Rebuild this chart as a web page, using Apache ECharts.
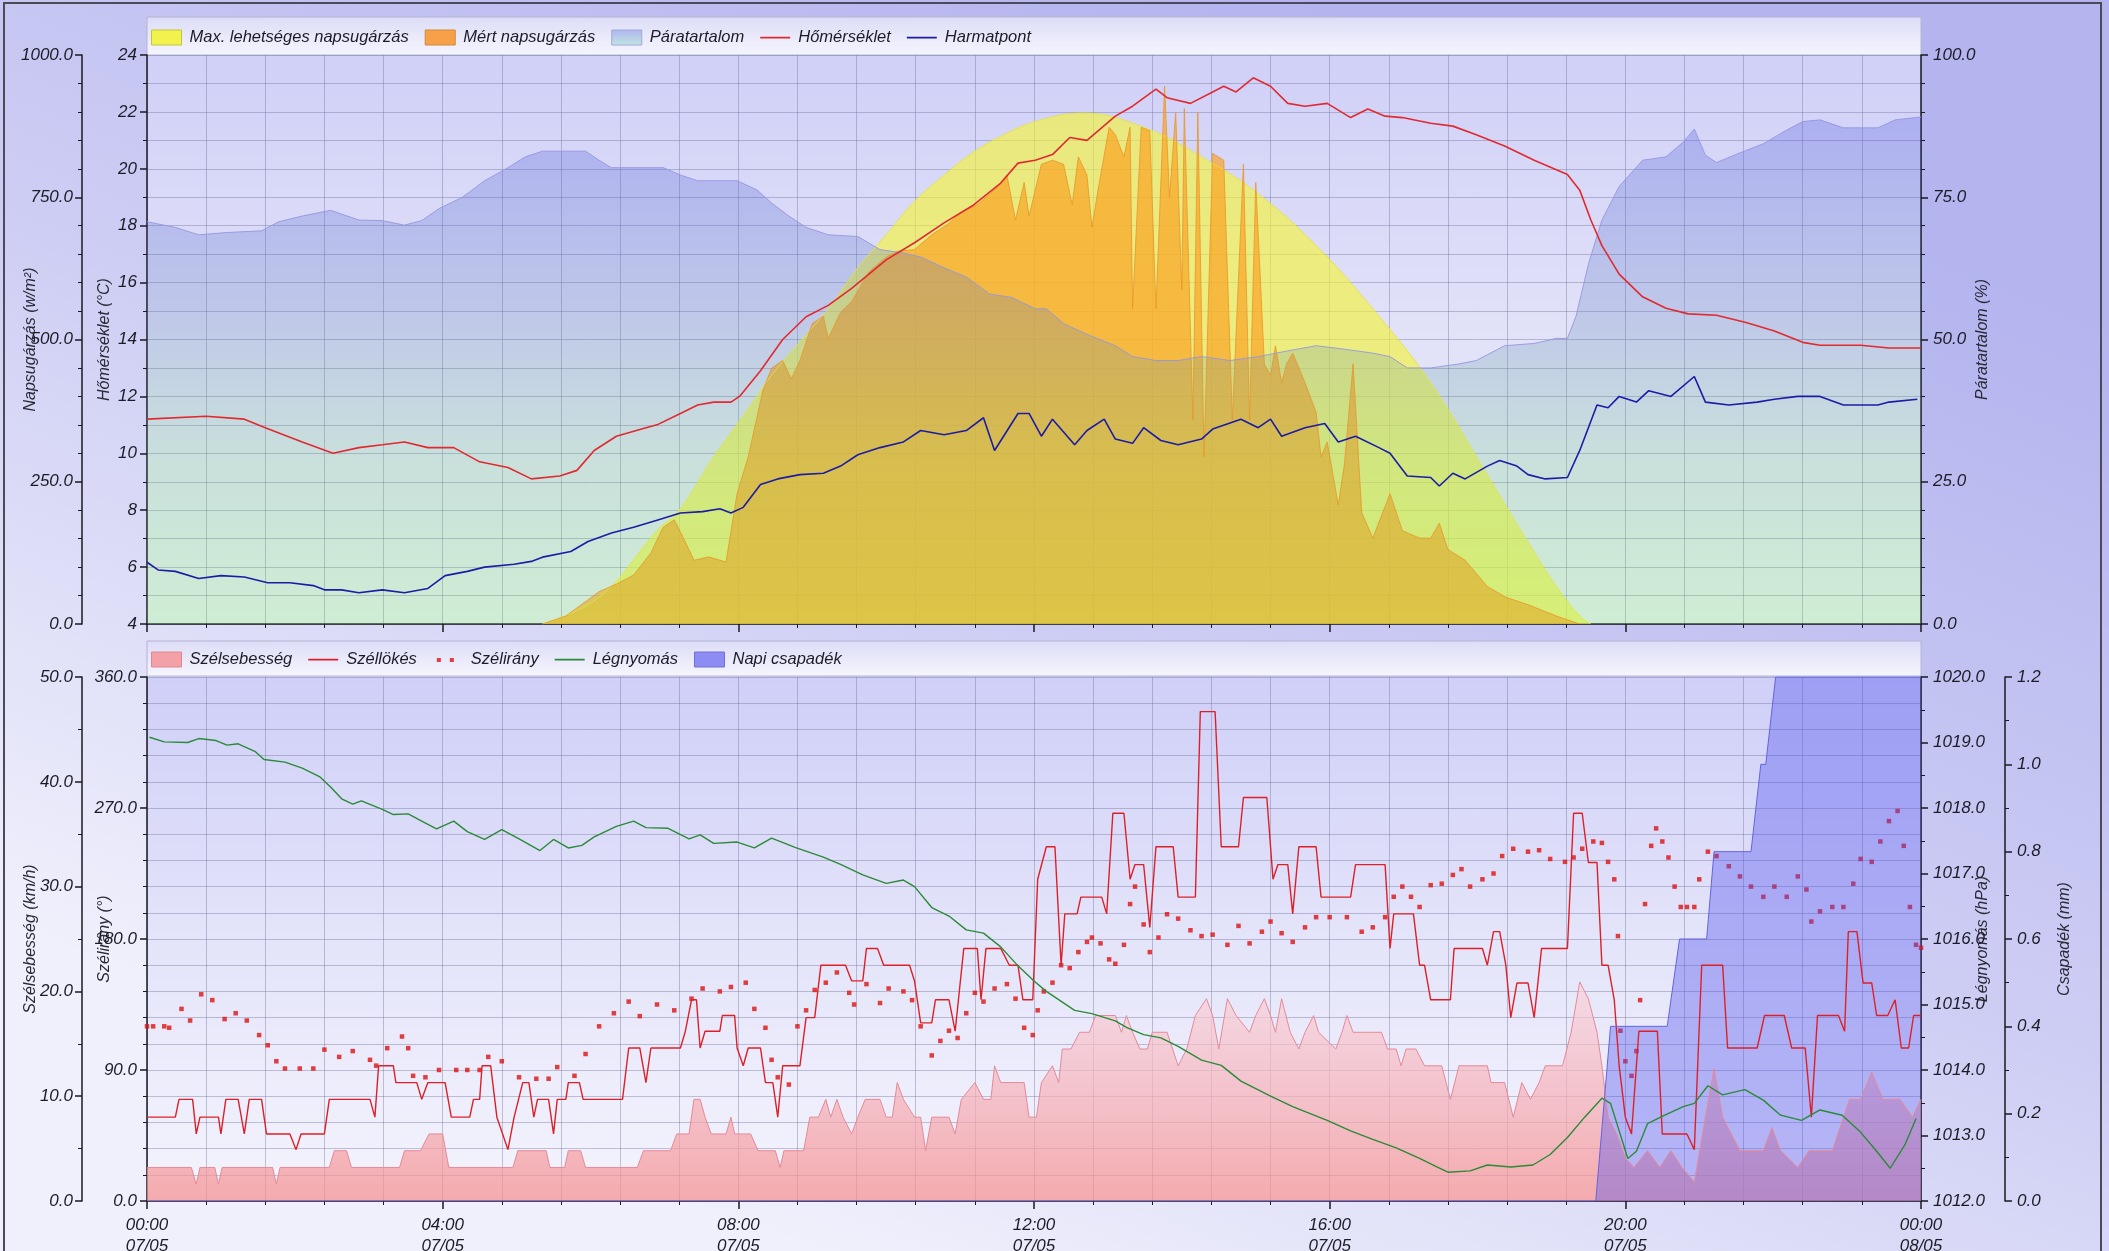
<!DOCTYPE html>
<html><head><meta charset="utf-8">
<script src="https://cdn.jsdelivr.net/npm/echarts@6.0.0/dist/echarts.min.js"></script>
<style>html,body{margin:0;padding:0;width:2109px;height:1251px;overflow:hidden}#c{width:2109px;height:1251px}</style>
</head><body><div id="c"></div><script>
// ---- time axis (minutes from 00:00 07/05) ----
const xMin = 0, xMax = 1440, xLabelStep = 240, xGridSplit = 5;

// ---- top chart data ----
const maxSolar = [[321,0],[367,47],[414,164],[433,203],[460,294],[484,366],[507,437],[530,496],[553,554],[577,626],[600,684],[623,743],[647,789],[670,828],[693,857],[721,883],[760,898],[809,873],[856,821],[902,756],[949,665],[995,554],[1042,424],[1088,262],[1121,144],[1144,66],[1163,14],[1172,0]];
const measSolar = [[321,0],[340,14],[367,57],[381,70],[395,86],[409,125],[419,170],[428,183],[437,144],[444,112],[456,118],[470,109],[479,229],[488,294],[500,411],[507,450],[516,463],[523,431],[530,463],[540,528],[549,541],[553,502],[563,548],[572,567],[586,619],[600,645],[609,655],[623,658],[637,684],[651,704],[660,723],[674,737],[688,763],[698,789],[705,710],[712,776],[716,717],[726,808],[735,815],[744,808],[751,737],[756,821],[763,789],[767,697],[772,763],[781,873],[786,860],[793,821],[798,873],[800,554],[807,873],[814,867],[819,554],[826,945],[830,750],[835,899],[840,587],[842,906],[849,359],[853,899],[858,294],[865,827],[874,815],[881,359],[890,808],[895,359],[900,776],[907,457],[912,437],[916,489],[921,424],[925,457],[930,476],[940,424],[949,372],[953,294],[958,320],[967,209],[972,281],[979,457],[986,196],[995,151],[1009,229],[1019,164],[1033,151],[1042,151],[1049,177],[1056,131],[1070,112],[1088,66],[1103,47],[1121,34],[1144,14],[1163,0]];
const humidity = [[0,70.7],[23,69.7],[42,68.4],[65,68.8],[93,69.1],[107,70.7],[126,71.7],[149,72.7],[172,71.0],[191,70.9],[209,70.1],[223,70.9],[237,73.0],[256,75.0],[274,77.9],[293,80.2],[307,82.1],[321,83.1],[356,83.1],[367,81.5],[377,80.2],[419,80.2],[433,78.9],[447,77.9],[479,77.9],[495,76.3],[507,74.0],[521,71.7],[535,69.7],[553,68.4],[577,68.1],[595,65.8],[614,65.2],[628,64.5],[647,62.6],[665,61.0],[684,58.0],[702,57.4],[721,55.4],[730,55.4],[744,52.8],[763,50.9],[786,48.9],[800,47.0],[819,46.3],[837,46.3],[856,47.0],[879,46.3],[902,47.0],[926,48.0],[949,48.9],[972,48.3],[995,47.6],[1009,47.0],[1023,45.0],[1042,45.0],[1065,45.7],[1079,46.3],[1102,48.9],[1126,49.3],[1144,50.2],[1153,50.2],[1160,54.1],[1170,63.2],[1181,71.0],[1195,76.9],[1214,81.5],[1233,82.1],[1247,84.7],[1256,87.0],[1265,82.4],[1274,81.1],[1293,82.8],[1312,84.4],[1330,86.7],[1344,88.3],[1358,88.6],[1377,87.2],[1405,87.2],[1419,88.6],[1440,89.1]];
const temperature = [[0,11.2],[48,11.3],[79,11.2],[96,10.9],[126,10.4],[151,10.0],[172,10.2],[191,10.3],[209,10.4],[228,10.2],[249,10.2],[270,9.7],[293,9.5],[312,9.1],[335,9.2],[349,9.4],[363,10.1],[381,10.6],[405,10.9],[414,11.0],[433,11.4],[447,11.7],[460,11.8],[474,11.8],[481,12.0],[498,12.9],[516,14.0],[535,14.8],[553,15.2],[572,15.8],[600,16.8],[623,17.4],[647,18.1],[670,18.7],[693,19.5],[707,20.2],[721,20.3],[735,20.5],[749,21.1],[763,21.0],[786,21.85],[800,22.2],[819,22.8],[828,22.5],[847,22.3],[865,22.7],[874,22.9],[884,22.7],[898,23.2],[912,22.9],[926,22.3],[940,22.2],[958,22.3],[977,21.8],[991,22.1],[1005,21.85],[1019,21.8],[1042,21.6],[1060,21.5],[1079,21.2],[1102,20.8],[1126,20.3],[1153,19.8],[1163,19.25],[1172,18.2],[1181,17.3],[1195,16.3],[1214,15.5],[1233,15.1],[1251,14.9],[1274,14.85],[1298,14.6],[1321,14.3],[1344,13.9],[1358,13.8],[1391,13.8],[1414,13.7],[1440,13.7]];
const dewPoint = [[0,6.17],[9,5.9],[23,5.85],[42,5.6],[60,5.7],[79,5.65],[98,5.45],[116,5.45],[135,5.35],[144,5.2],[158,5.2],[172,5.1],[191,5.2],[209,5.1],[228,5.25],[242,5.7],[260,5.85],[274,6.0],[298,6.1],[312,6.2],[321,6.35],[344,6.55],[358,6.9],[377,7.2],[395,7.4],[414,7.65],[433,7.9],[451,7.95],[465,8.05],[474,7.9],[484,8.1],[498,8.9],[512,9.1],[530,9.25],[549,9.3],[563,9.55],[577,9.95],[595,10.2],[614,10.4],[628,10.8],[647,10.65],[665,10.8],[679,11.25],[688,10.1],[707,11.4],[716,11.4],[726,10.6],[735,11.2],[753,10.3],[763,10.8],[777,11.2],[786,10.5],[800,10.35],[809,10.9],[823,10.45],[837,10.3],[856,10.5],[865,10.85],[888,11.2],[902,10.9],[912,11.2],[921,10.6],[940,10.9],[956,11.05],[967,10.4],[981,10.6],[1000,10.2],[1009,10.0],[1023,9.2],[1042,9.15],[1049,8.85],[1060,9.3],[1070,9.1],[1088,9.55],[1098,9.75],[1112,9.55],[1121,9.25],[1135,9.1],[1153,9.15],[1163,10.1],[1177,11.7],[1186,11.6],[1195,12.0],[1209,11.8],[1219,12.2],[1237,12.0],[1256,12.7],[1265,11.8],[1284,11.7],[1307,11.8],[1321,11.9],[1340,12.0],[1358,12.0],[1377,11.7],[1405,11.7],[1414,11.8],[1437,11.9]];

// ---- bottom chart data ----
const windSpeed = [[0,3.2],[36,3.2],[40,1.6],[43,3.2],[55,3.2],[58,1.6],[61,3.2],[102,3.2],[105,1.6],[108,3.2],[148,3.2],[152,4.8],[162,4.8],[166,3.2],[205,3.2],[209,4.8],[222,4.8],[229,6.4],[240,6.4],[245,3.2],[297,3.2],[301,4.8],[324,4.8],[327,3.2],[339,3.2],[342,4.8],[352,4.8],[356,3.2],[398,3.2],[403,4.8],[425,4.8],[430,6.4],[440,6.4],[444,9.7],[449,9.7],[453,8.0],[458,6.4],[470,6.4],[474,8.0],[477,6.4],[490,6.4],[496,4.8],[510,4.8],[514,3.2],[517,4.8],[533,4.8],[538,8.0],[545,8.0],[551,9.7],[555,8.0],[560,9.7],[565,8.0],[572,6.4],[577,8.0],[583,9.7],[595,9.7],[600,8.0],[605,8.0],[609,11.3],[614,9.7],[623,8.0],[628,8.0],[632,4.8],[637,8.0],[651,8.0],[656,6.4],[661,9.7],[672,11.3],[679,9.7],[685,9.7],[688,12.9],[693,11.3],[707,11.3],[712,11.3],[716,8.0],[722,8.0],[726,11.3],[735,12.9],[740,11.3],[743,14.5],[750,14.5],[757,16.1],[765,16.1],[770,17.7],[786,17.7],[791,16.1],[795,17.7],[800,16.1],[806,14.5],[812,14.5],[816,16.1],[828,16.1],[837,12.9],[844,14.5],[851,17.7],[860,19.3],[865,17.7],[870,14.5],[877,19.3],[884,17.7],[895,16.1],[900,17.7],[907,19.3],[912,17.7],[916,16.1],[921,19.3],[928,16.1],[935,14.5],[940,16.1],[947,17.7],[951,16.1],[965,14.5],[970,16.1],[974,17.7],[979,16.1],[1002,16.1],[1007,14.5],[1014,14.5],[1018,12.9],[1022,14.5],[1030,14.5],[1037,12.9],[1051,12.9],[1058,9.7],[1065,12.9],[1088,12.9],[1091,11.3],[1102,11.3],[1109,8.0],[1116,11.3],[1123,9.7],[1130,11.3],[1135,12.9],[1149,12.9],[1156,16.1],[1163,20.9],[1170,19.3],[1177,16.1],[1181,12.9],[1186,8.0],[1193,6.4],[1200,4.1],[1207,3.2],[1218,4.8],[1228,3.2],[1237,4.8],[1246,3.2],[1256,1.8],[1265,8.0],[1272,12.6],[1279,8.0],[1293,4.8],[1312,4.8],[1319,7.0],[1326,4.8],[1340,3.2],[1349,4.8],[1368,4.8],[1382,9.7],[1391,9.7],[1400,12.3],[1409,9.7],[1423,9.7],[1433,8.0],[1440,9.7]];
const windGust = [[0,8.0],[23,8.0],[26,9.7],[37,9.7],[40,6.4],[43,8.0],[58,8.0],[60,6.4],[64,9.7],[74,9.7],[79,6.4],[83,9.7],[93,9.7],[97,6.4],[116,6.4],[121,4.9],[125,6.4],[144,6.4],[148,9.7],[181,9.7],[185,8.0],[188,12.9],[200,12.9],[202,11.3],[219,11.3],[223,9.7],[228,11.3],[242,11.3],[247,8.0],[262,8.0],[265,9.7],[270,9.7],[272,12.9],[279,12.9],[284,8.0],[293,4.9],[298,8.0],[305,11.3],[310,11.3],[314,8.0],[317,9.7],[326,9.7],[330,6.4],[333,9.7],[340,9.7],[342,11.3],[351,11.3],[354,9.7],[386,9.7],[391,14.6],[400,14.6],[405,11.3],[409,14.6],[433,14.6],[437,16.2],[442,19.2],[446,19.2],[449,14.6],[453,16.2],[465,16.2],[467,17.7],[477,17.7],[479,14.6],[484,12.9],[488,14.6],[498,14.6],[502,11.3],[508,11.3],[512,8.0],[516,12.9],[530,12.9],[535,17.5],[542,17.5],[547,22.5],[567,22.5],[572,21.0],[581,21.0],[584,24.1],[593,24.1],[598,22.5],[619,22.5],[623,21.0],[628,17.0],[637,17.0],[640,19.2],[651,19.2],[656,16.2],[663,24.1],[674,24.1],[677,19.2],[681,24.1],[693,24.1],[700,22.5],[707,22.5],[711,19.2],[719,19.2],[723,30.7],[730,33.8],[737,33.8],[742,22.5],[745,27.4],[755,27.4],[758,29.0],[775,29.0],[779,27.4],[784,37.0],[793,37.0],[798,30.7],[802,32.1],[809,32.1],[814,26.1],[819,33.8],[833,33.8],[837,29.0],[851,29.0],[855,46.7],[867,46.7],[872,33.8],[886,33.8],[890,38.5],[909,38.5],[914,30.7],[918,32.1],[926,32.1],[930,27.4],[935,33.8],[949,33.8],[953,29.0],[977,29.0],[981,32.1],[1005,32.1],[1009,24.1],[1012,27.4],[1028,27.4],[1033,22.5],[1037,22.5],[1042,19.2],[1058,19.2],[1061,24.1],[1084,24.1],[1088,22.5],[1093,25.7],[1098,25.7],[1103,22.5],[1107,17.5],[1112,20.8],[1121,20.8],[1126,17.5],[1132,24.1],[1153,24.1],[1158,37.0],[1165,37.0],[1170,32.3],[1177,32.3],[1181,22.5],[1186,22.5],[1191,19.2],[1195,12.9],[1200,8.0],[1205,6.4],[1211,16.2],[1226,16.2],[1230,6.4],[1250,6.4],[1256,4.9],[1262,22.5],[1279,22.5],[1283,14.6],[1307,14.6],[1313,17.7],[1329,17.7],[1335,14.6],[1346,14.6],[1351,8.0],[1356,17.7],[1373,17.7],[1378,16.2],[1381,25.7],[1388,25.7],[1393,20.8],[1400,20.8],[1404,17.7],[1413,17.7],[1419,19.2],[1424,14.6],[1430,14.6],[1434,17.7],[1440,17.7]];
const windDir = [[0,120],[5,120],[14,120],[18,119],[28,132],[35,124],[44,142],[53,138],[63,125],[72,129],[81,124],[91,114],[98,107],[105,96],[112,91],[124,91],[135,91],[144,104],[156,99],[167,103],[181,97],[186,93],[195,105],[207,113],[212,105],[216,86],[226,85],[237,90],[251,90],[260,90],[270,90],[277,99],[288,96],[302,85],[316,84],[326,84],[333,92],[347,86],[356,101],[367,120],[379,129],[391,137],[400,127],[414,135],[428,131],[442,139],[451,146],[465,144],[474,147],[486,150],[493,132],[502,119],[507,97],[512,85],[521,80],[528,120],[535,131],[542,145],[551,150],[560,157],[570,143],[574,135],[584,149],[595,136],[602,146],[614,144],[621,138],[628,120],[637,100],[644,110],[651,117],[658,112],[665,129],[672,143],[679,137],[688,146],[698,149],[705,139],[712,119],[719,114],[723,131],[728,144],[735,150],[742,162],[749,160],[756,171],[763,178],[767,181],[774,177],[781,166],[786,163],[793,176],[798,204],[802,216],[809,190],[814,171],[821,181],[828,197],[837,194],[847,186],[856,182],[865,183],[877,176],[886,189],[895,177],[905,185],[912,192],[921,184],[930,178],[940,188],[949,195],[960,195],[974,195],[986,185],[995,188],[1005,195],[1012,209],[1019,216],[1026,209],[1033,202],[1042,217],[1051,218],[1060,224],[1067,228],[1074,216],[1084,221],[1093,225],[1100,237],[1109,242],[1121,240],[1130,241],[1139,235],[1151,233],[1158,236],[1165,242],[1174,247],[1181,246],[1186,233],[1191,221],[1194,182],[1196,117],[1200,96],[1205,86],[1209,103],[1212,138],[1216,204],[1221,244],[1225,256],[1230,247],[1235,236],[1240,216],[1245,202],[1250,202],[1256,202],[1260,221],[1267,240],[1274,237],[1284,230],[1293,223],[1302,216],[1312,209],[1321,216],[1331,209],[1340,223],[1347,214],[1351,192],[1358,199],[1368,202],[1377,202],[1385,218],[1391,235],[1400,233],[1407,247],[1414,261],[1421,268],[1426,244],[1431,202],[1436,176],[1440,174]];
const pressure = [[2,1019.08],[14,1019.01],[33,1019.0],[42,1019.06],[56,1019.03],[65,1018.96],[74,1018.98],[88,1018.86],[95,1018.74],[112,1018.70],[126,1018.61],[140,1018.48],[149,1018.32],[158,1018.14],[167,1018.06],[174,1018.11],[191,1017.98],[200,1017.90],[212,1017.91],[223,1017.80],[235,1017.68],[249,1017.80],[260,1017.64],[274,1017.52],[288,1017.67],[302,1017.53],[319,1017.35],[330,1017.52],[342,1017.39],[353,1017.43],[363,1017.56],[381,1017.72],[395,1017.80],[405,1017.70],[423,1017.69],[440,1017.53],[449,1017.59],[460,1017.46],[479,1017.48],[493,1017.39],[507,1017.54],[526,1017.40],[549,1017.25],[563,1017.14],[581,1016.98],[600,1016.85],[614,1016.90],[623,1016.80],[637,1016.48],[651,1016.35],[665,1016.14],[679,1016.09],[693,1015.88],[707,1015.59],[720,1015.36],[730,1015.2],[753,1014.91],[767,1014.86],[786,1014.75],[795,1014.65],[809,1014.54],[823,1014.49],[837,1014.36],[856,1014.15],[872,1014.07],[888,1013.83],[912,1013.60],[930,1013.44],[958,1013.23],[977,1013.07],[995,1012.94],[1014,1012.81],[1033,1012.65],[1047,1012.52],[1056,1012.44],[1074,1012.46],[1088,1012.55],[1107,1012.52],[1125,1012.55],[1139,1012.71],[1153,1012.97],[1167,1013.28],[1181,1013.57],[1188,1013.49],[1195,1013.07],[1202,1012.65],[1209,1012.76],[1218,1013.18],[1232,1013.31],[1247,1013.44],[1256,1013.49],[1267,1013.76],[1279,1013.62],[1297,1013.70],[1312,1013.54],[1326,1013.31],[1343,1013.23],[1358,1013.39],[1376,1013.31],[1390,1013.07],[1404,1012.76],[1415,1012.50],[1427,1012.86],[1436,1013.26]];
const rain = [[0,0],[1176,0],[1188,0.4],[1234,0.4],[1244,0.6],[1266,0.6],[1272,0.8],[1302,0.8],[1310,1.0],[1314,1.0],[1322,1.2],[1440,1.2]];

// ---- texts ----
const topNames = ['Max. lehetséges napsugárzás','Mért napsugárzás','Páratartalom','Hőmérséklet','Harmatpont'];
const botNames = ['Szélsebesség','Széllökés','Szélirány','Légnyomás','Napi csapadék'];
const axisNames = {solar:'Napsugárzás (w/m²)', temp:'Hőmérséklet (°C)', hum:'Páratartalom (%)', wind:'Szélsebesség (km/h)', dir:'Szélirány (°)', press:'Légnyomás (hPa)', rain:'Csapadék (mm)'};
const dayLabels = ['07/05','08/05'];

const FONT = '"Liberation Sans", Arial, sans-serif';
const txt = {fontFamily: FONT, fontStyle: 'italic', fontSize: 17, color: '#1c1c28'};
const gridLineStyle = {color: 'rgba(105,105,150,0.38)', width: 1};
const axisLineStyle = {color: '#1a1a22', width: 1.5};
const pad = n => (n < 10 ? '0' : '') + n;
const f1 = v => v.toFixed(1);
const lineIcon = 'path://M0,0h0.01v0.01h-0.01z M30,15h0.01v0.01h-0.01z M0,6.7h30v1.7h-30z';
const dotsIcon = 'path://M0,0h0.01v0.01h-0.01z M30,15h0.01v0.01h-0.01z M4,6h4v4h-4z M17,6h4v4h-4z';

function yAxisDef(o) {
  return Object.assign({
    type: 'value', nameLocation: 'middle', nameRotate: 90, nameMoveOverlap: false,
    nameTextStyle: {fontFamily: FONT, fontStyle: 'italic', fontSize: 16, color: '#2a2a36'},
    axisLine: {show: true, onZero: false, lineStyle: axisLineStyle},
    axisTick: {show: true, length: 7, lineStyle: axisLineStyle},
    axisLabel: Object.assign({margin: 10}, txt),
    splitLine: {show: false}
  }, o);
}
function minor(n) { return {show: true, splitNumber: n, length: 4, lineStyle: {color: '#1a1a22', width: 1}}; }
function xAxisDef(grid, showLabels) {
  return {
    type: 'value', gridIndex: grid, min: xMin, max: xMax, interval: xLabelStep,
    axisLine: {show: true, onZero: false, lineStyle: axisLineStyle},
    axisTick: {show: true, length: 8, lineStyle: axisLineStyle},
    minorTick: minor(xGridSplit),
    splitLine: {show: true, lineStyle: gridLineStyle},
    minorSplitLine: {show: true, lineStyle: gridLineStyle},
    axisLabel: showLabels ? Object.assign({
      margin: 14, lineHeight: 21,
      formatter: v => pad(Math.floor(v / 60) % 24) + ':' + pad(v % 60) + '\n' + (v >= 1440 ? dayLabels[1] : dayLabels[0])
    }, txt) : {show: false}
  };
}
function vgrad(stops) { return {type: 'linear', x: 0, y: 0, x2: 0, y2: 1, colorStops: stops.map((c, i) => ({offset: i / (stops.length - 1), color: c}))}; }
function ggrad(y1, y2, stops) { return {type: 'linear', x: 0, y: y1, x2: 0, y2: y2, global: true, colorStops: stops.map(s => ({offset: s[0], color: s[1]}))}; }

const chart = echarts.init(document.getElementById('c'), null, {renderer: 'canvas'});
const legendText = {fontFamily: FONT, fontStyle: 'italic', fontSize: 16.5, color: '#1c1c28', padding: [0, 0, 0, 3]};

chart.setOption({
  animation: false,
  backgroundColor: {type: 'linear', x: 0.62, y: 0, x2: 0.38, y2: 1, colorStops: [{offset: 0, color: '#b4b4ef'}, {offset: 0.5, color: '#cdcdf4'}, {offset: 1, color: '#f0f0fc'}]},
  graphic: [
    {type: 'rect', z: 0, shape: {x: 147, y: 17, width: 1774, height: 38}, style: {fill: vgrad(['#dcdcf7', '#f6f6fe']), stroke: '#b4b4d4', lineWidth: 1}},
    {type: 'rect', z: 0, shape: {x: 147, y: 641, width: 1774, height: 35}, style: {fill: vgrad(['#dcdcf7', '#f6f6fe']), stroke: '#b4b4d4', lineWidth: 1}},
    {type: 'rect', z: 0, shape: {x: 4, y: 3, width: 2097, height: 1262}, style: {fill: 'none', stroke: '#4a4a5a', lineWidth: 2}}
  ],
  grid: [
    {left: 147, right: 188, top: 55, height: 569, containLabel: false, outerBoundsMode: 'none', show: true, borderWidth: 0, backgroundColor: vgrad(['#d0d0f8', '#e2e2f8', '#e6eef2'])},
    {left: 147, right: 188, top: 677, height: 524, containLabel: false, outerBoundsMode: 'none', show: true, borderWidth: 0, backgroundColor: vgrad(['#cfcff8', '#e4e4fa', '#f4f4fd'])}
  ],
  legend: [
    {left: 151, top: 29, padding: 0, itemGap: 16, itemWidth: 30, itemHeight: 15, textStyle: legendText, selectedMode: false,
     data: [
      {name: topNames[0], icon: 'rect', itemStyle: {color: '#f2f24c', borderColor: '#c4c440', borderWidth: 1}},
      {name: topNames[1], icon: 'rect', itemStyle: {color: '#f6a048', borderColor: '#d08838', borderWidth: 1}},
      {name: topNames[2], icon: 'rect', itemStyle: {color: vgrad(['#b0b4f0', '#bfe6e0']), borderColor: '#a0a8d8', borderWidth: 1}},
      {name: topNames[3], icon: lineIcon, itemStyle: {color: '#e02a30', borderWidth: 0}},
      {name: topNames[4], icon: lineIcon, itemStyle: {color: '#1c1ca6', borderWidth: 0}}]},
    {left: 151, top: 651, padding: 0, itemGap: 16, itemWidth: 30, itemHeight: 15, textStyle: legendText, selectedMode: false,
     data: [
      {name: botNames[0], icon: 'rect', itemStyle: {color: '#f4a0a8', borderColor: '#e08890', borderWidth: 1}},
      {name: botNames[1], icon: lineIcon, itemStyle: {color: '#dd2028', borderWidth: 0}},
      {name: botNames[2], icon: dotsIcon, itemStyle: {color: '#dd1111', borderWidth: 0}},
      {name: botNames[3], icon: lineIcon, itemStyle: {color: '#2a8a38', borderWidth: 0}},
      {name: botNames[4], icon: 'rect', itemStyle: {color: '#8c8cf2', borderColor: '#7070d8', borderWidth: 1}}]}
  ],
  xAxis: [xAxisDef(0, false), xAxisDef(1, true)],
  yAxis: [
    yAxisDef({gridIndex: 0, position: 'left', offset: 65, min: 0, max: 1000, interval: 250, minorTick: minor(5), axisLabel: Object.assign({margin: 9, formatter: f1}, txt), name: axisNames.solar, nameGap: 43}),
    yAxisDef({gridIndex: 0, position: 'left', offset: 0, min: 4, max: 24, interval: 2, minorTick: minor(2), splitLine: {show: true, lineStyle: gridLineStyle}, minorSplitLine: {show: true, lineStyle: gridLineStyle}, name: axisNames.temp, nameGap: 34}),
    yAxisDef({gridIndex: 0, position: 'right', offset: 0, min: 0, max: 100, interval: 25, minorTick: minor(5), axisLabel: Object.assign({margin: 12, formatter: f1}, txt), name: axisNames.hum, nameGap: 54}),
    yAxisDef({gridIndex: 1, position: 'left', offset: 65, min: 0, max: 50, interval: 10, minorTick: minor(2), axisLabel: Object.assign({margin: 9, formatter: f1}, txt), name: axisNames.wind, nameGap: 43}),
    yAxisDef({gridIndex: 1, position: 'left', offset: 0, min: 0, max: 360, interval: 90, minorTick: minor(5), splitLine: {show: true, lineStyle: gridLineStyle}, minorSplitLine: {show: true, lineStyle: gridLineStyle}, axisLabel: Object.assign({margin: 10, formatter: f1}, txt), name: axisNames.dir, nameGap: 34}),
    yAxisDef({gridIndex: 1, position: 'right', offset: 0, min: 1012, max: 1020, interval: 1, minorTick: minor(2), axisLabel: Object.assign({margin: 12, formatter: f1}, txt), name: axisNames.press, nameGap: 54}),
    yAxisDef({gridIndex: 1, position: 'right', offset: 84, min: 0, max: 1.2, interval: 0.2, minorTick: minor(2), axisLabel: Object.assign({margin: 12, formatter: f1}, txt), name: axisNames.rain, nameGap: 52})
  ],
  series: [
    {name: topNames[0], type: 'line', xAxisIndex: 0, yAxisIndex: 0, data: maxSolar, smooth: 0.4, symbol: 'none',
     lineStyle: {width: 0.8, color: '#e4e43a'}, itemStyle: {color: '#f2f24c'}, areaStyle: {color: 'rgba(244,244,56,0.9)', origin: 'start'}},
    {name: topNames[1], type: 'line', xAxisIndex: 0, yAxisIndex: 0, data: measSolar, symbol: 'none',
     lineStyle: {width: 0.8, color: '#e8962a'}, itemStyle: {color: '#f6a048'}, areaStyle: {color: 'rgba(250,160,32,0.94)', origin: 'start'}},
    {name: topNames[2], type: 'line', xAxisIndex: 0, yAxisIndex: 2, data: humidity, symbol: 'none',
     lineStyle: {width: 1, color: 'rgba(150,150,225,0.9)'}, itemStyle: {color: '#b0b4f0'},
     areaStyle: {origin: 'start', color: ggrad(55, 624, [[0, 'rgba(70,70,230,0.42)'], [0.45, 'rgba(94,128,190,0.37)'], [0.72, 'rgba(110,200,130,0.32)'], [1, 'rgba(123,232,100,0.3)']])}},
    {name: topNames[3], type: 'line', xAxisIndex: 0, yAxisIndex: 1, data: temperature, symbol: 'none',
     lineStyle: {width: 1.6, color: '#e02a30'}, itemStyle: {color: '#e02a30'}},
    {name: topNames[4], type: 'line', xAxisIndex: 0, yAxisIndex: 1, data: dewPoint, symbol: 'none',
     lineStyle: {width: 1.6, color: '#1c1ca6'}, itemStyle: {color: '#1c1ca6'}},

    {name: botNames[0], type: 'line', xAxisIndex: 1, yAxisIndex: 3, data: windSpeed, symbol: 'none',
     lineStyle: {width: 1, color: '#e48a98'}, itemStyle: {color: '#f4a0a8'},
     areaStyle: {origin: 'start', color: ggrad(960, 1201, [[0, '#fadce3'], [0.5, '#f7b4bc'], [1, '#f48c8c']])}},
    {name: botNames[1], type: 'line', xAxisIndex: 1, yAxisIndex: 3, data: windGust, symbol: 'none',
     lineStyle: {width: 1.4, color: '#dd2028'}, itemStyle: {color: '#dd2028'}},
    {name: botNames[2], type: 'scatter', xAxisIndex: 1, yAxisIndex: 4, data: windDir, symbol: 'rect', symbolSize: 4.5,
     itemStyle: {color: '#dd1111'}},
    {name: botNames[3], type: 'line', xAxisIndex: 1, yAxisIndex: 5, data: pressure, symbol: 'none',
     lineStyle: {width: 1.4, color: '#2a8a38'}, itemStyle: {color: '#2a8a38'}},
    {name: botNames[4], type: 'line', xAxisIndex: 1, yAxisIndex: 6, data: rain, symbol: 'none',
     lineStyle: {width: 1, color: '#6464e0'}, itemStyle: {color: '#8c8cf2'},
     areaStyle: {origin: 'start', color: 'rgba(80,80,236,0.55)'}}
  ]
});
</script></body></html>
